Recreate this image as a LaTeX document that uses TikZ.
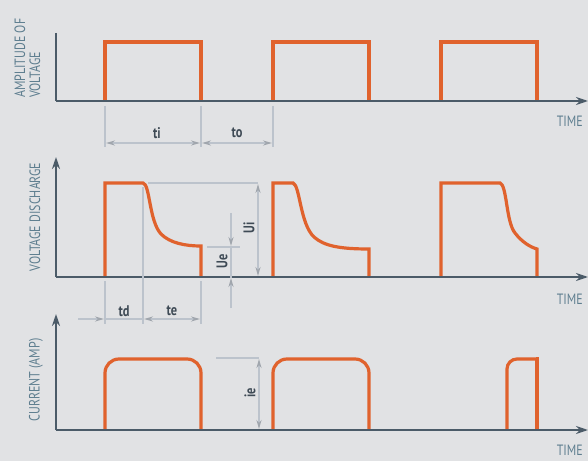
\documentclass[tikz,border=0pt]{standalone}
\usepackage{fontspec}
\setmainfont{PT Sans}[FakeStretch=0.8]
\usetikzlibrary{arrows.meta}
\definecolor{bgray}{HTML}{E1E2E4}
\definecolor{axisc}{HTML}{4B5B68}
\definecolor{pulsec}{HTML}{E0622D}
\definecolor{dimc}{HTML}{BCC3CC}
\definecolor{labc}{HTML}{5E7E8F}
\definecolor{valc}{HTML}{3E4A55}
\tikzset{dimtip/.tip={Stealth[length=9bp,width=5bp,color=dimc!85!black,fill=dimc]}}

\begin{document}
\begin{tikzpicture}[x=1bp, y=-1bp, line join=miter]
\tikzstyle{axis}=[draw=axisc, line width=2bp, -{Stealth[length=12bp,width=8bp]}]
\tikzstyle{pulse}=[draw=pulsec, line width=3.2bp]
\tikzstyle{extline}=[draw=dimc, line width=2.8bp]
\tikzstyle{dimline}=[draw=dimc, line width=1.8bp]
\tikzstyle{axlab}=[text=labc, font=\fontsize{15}{16}\selectfont, rotate=90, inner sep=0pt]
\tikzstyle{timelab}=[text=labc, font=\fontsize{15}{16}\selectfont, anchor=east, inner sep=0pt]
\tikzstyle{vallab}=[text=valc, font=\bfseries\fontsize{15.5}{16}\selectfont, inner sep=0pt]
%
\fill[bgray] (0,0) rectangle (588,461);
\useasboundingbox (0,0) rectangle (588,461);
%
% pulses
\draw[pulse] (105,101) -- (105,42) -- (201,42) -- (201,101);
\draw[pulse] (273,101) -- (273,42) -- (369,42) -- (369,101);
\draw[pulse] (441,101) -- (441,42) -- (537,42) -- (537,101);
%
\draw[pulse] (105,277) -- (105,183) -- (143,183)
	.. controls (150,184) and (149,221) .. (161,234)
	.. controls (170,243) and (185,246) .. (201,246) -- (201,277);
\draw[pulse] (273,277) -- (273,183) -- (293,183)
	.. controls (300,185) and (300,224) .. (314,237)
	.. controls (324,246) and (340,249) .. (369,249) -- (369,277);
\draw[pulse] (441,277) -- (441,183) -- (500,183)
	.. controls (507,185) and (506,222) .. (515,233)
	.. controls (522,242) and (530,247) .. (537,249) -- (537,277);
%
\draw[pulse, rounded corners=14bp] (105,430) -- (105,359) -- (201,359) -- (201,430);
\draw[pulse, rounded corners=14bp] (273,430) -- (273,359) -- (369,359) -- (369,430);
\draw[pulse, rounded corners=10bp] (507,430) -- (507,359) -- (537,359);
\draw[pulse] (536,359) -- (537,359) -- (537,430);
%
% axes
\draw[axis, -] (56,33) -- (56,101);
\draw[axis] (56,101) -- (588,101);
\draw[axis] (56,277) -- (56,157);
\draw[axis] (56,277) -- (588,277);
\draw[axis] (56,430) -- (56,314);
\draw[axis] (56,430) -- (588,430);
%
\node[axlab, anchor=west] (amp1) at (20,98) {AMPLITUDE OF};
\node[axlab, anchor=west] (amp2) at (35,98) {VOLTAGE};
\node[axlab] (vdis) at (35,217) {VOLTAGE DISCHARGE};
\node[axlab] (curr) at (36,380) {CURRENT (AMP)};
\node[timelab] (time1) at (583,121) {TIME};
\node[timelab] (time2) at (583,299) {TIME};
\node[timelab] (time3) at (583,450) {TIME};
%
% ti / to
\draw[extline] (105,106) -- (105,147);
\draw[extline] (201,106) -- (201,147);
\draw[extline] (273,106) -- (273,147);
\draw[dimline, dimtip-dimtip] (106,143) -- (200,143);
\draw[dimline, dimtip-dimtip] (202,143) -- (272,143);
\node[vallab] (ti) at (157,133) {ti};
\node[vallab] (to) at (237,133) {to};
%
% Ui / Ue
\draw[extline] (148,183) -- (258,183);
\draw[dimline, dimtip-dimtip] (258,184) -- (258,276);
\node[vallab, rotate=90] (ui) at (249,228) {Ui};
\draw[extline] (207,247) -- (240,247);
\draw[dimline, -dimtip] (231,213) -- (231,246);
\draw[dimline] (231,247) -- (231,278);
\draw[dimline, -dimtip] (231,308) -- (231,278);
\node[vallab, rotate=90] (ue) at (222,261) {Ue};
%
% td / te
\draw[extline] (143,187) -- (143,324);
\draw[extline] (105,281) -- (105,324);
\draw[extline] (201,281) -- (201,324);
\draw[dimline, -dimtip] (78,319) -- (104,319);
\draw[dimline] (105,319) -- (143,319);
\draw[dimline, dimtip-dimtip] (144,319) -- (200,319);
\node[vallab] (td) at (124,311) {td};
\node[vallab] (te) at (172,311) {te};
%
% ie
\draw[extline] (216,358) -- (259,358);
\draw[dimline, dimtip-dimtip] (259,359) -- (259,429);
\node[vallab, rotate=90] (ie) at (250,393) {ie};
\end{tikzpicture}
\end{document}
